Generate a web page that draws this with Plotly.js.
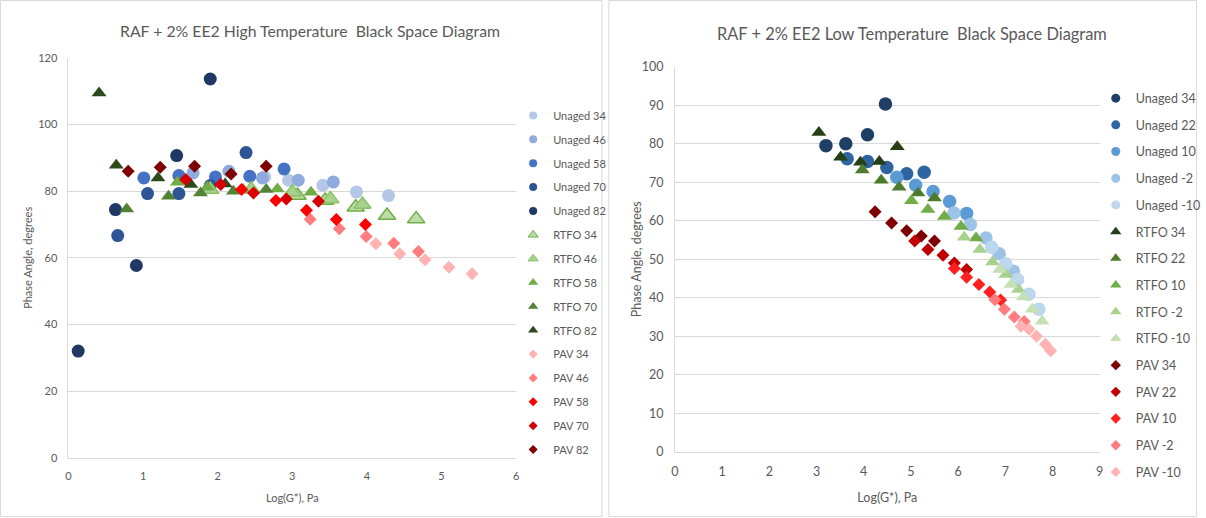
<!DOCTYPE html>
<html>
<head>
<meta charset="utf-8">
<script src="https://cdn.plot.ly/plotly-3.0.1.min.js"></script>
<style>
  html, body { margin: 0; padding: 0; background: #fff; }
  #chart { width: 1206px; height: 518px; }
</style>
</head>
<body>
<div id="chart"></div>
<script>
// ---- High temperature black space data (Log G*, phase angle) ----
const hiLabels = ['Unaged 34', 'Unaged 46', 'Unaged 58', 'Unaged 70', 'Unaged 82',
                  'RTFO 34', 'RTFO 46', 'RTFO 58', 'RTFO 70', 'RTFO 82',
                  'PAV 34', 'PAV 46', 'PAV 58', 'PAV 70', 'PAV 82'];
const hiX = [
  [2.63, 2.95, 3.41, 3.86, 4.29],
  [1.67, 2.15, 2.60, 3.08, 3.55],
  [1.01, 1.48, 1.97, 2.43, 2.89],
  [0.66, 1.06, 1.48, 1.90, 2.38],
  [0.13, 0.63, 0.91, 1.45, 1.90],
  [3.07, 3.44, 3.85, 4.27, 4.66],
  [1.90, 2.45, 3.00, 3.51, 3.94],
  [1.46, 1.86, 2.34, 2.80, 3.25],
  [0.78, 1.34, 1.77, 2.21, 2.65],
  [0.41, 0.64, 1.20, 1.64, 2.10],
  [4.12, 4.44, 4.78, 5.10, 5.41],
  [3.24, 3.63, 3.99, 4.36, 4.69],
  [2.32, 2.78, 3.19, 3.59, 3.98],
  [1.57, 2.04, 2.48, 2.92, 3.35],
  [0.80, 1.23, 1.69, 2.18, 2.65]
];
const hiY = [
  [84.3, 83.3, 81.8, 79.8, 78.7],
  [85.5, 86.0, 84.0, 83.3, 82.8],
  [84.0, 84.7, 84.3, 84.5, 86.7],
  [66.7, 79.3, 79.3, 81.7, 91.6],
  [32.0, 74.5, 57.7, 90.7, 113.7],
  [78.7, 77.2, 75.2, 72.7, 71.7],
  [80.5, 80.6, 79.7, 77.7, 76.0],
  [82.7, 81.2, 80.5, 80.7, 79.7],
  [74.7, 78.5, 79.5, 80.0, 80.5],
  [109.5, 87.8, 84.0, 82.0, 82.2],
  [64.2, 61.2, 59.4, 57.2, 55.2],
  [71.6, 68.7, 66.4, 64.4, 61.9],
  [80.5, 77.2, 74.3, 71.5, 70.0],
  [83.5, 82.0, 79.5, 77.7, 77.0],
  [86.0, 87.2, 87.5, 85.2, 87.5]
];

// ---- Low temperature black space data ----
const loLabels = ['Unaged 34', 'Unaged 22', 'Unaged 10', 'Unaged -2', 'Unaged -10',
                  'RTFO 34', 'RTFO 22', 'RTFO 10', 'RTFO -2', 'RTFO -10',
                  'PAV 34', 'PAV 22', 'PAV 10', 'PAV -2', 'PAV -10'];
const loX = [
  [3.20, 3.62, 4.08, 4.46],
  [3.65, 4.08, 4.49, 4.91, 5.28],
  [4.70, 5.10, 5.47, 5.82, 6.18],
  [5.91, 6.26, 6.59, 6.87, 7.17],
  [6.71, 7.01, 7.26, 7.50, 7.71],
  [3.05, 3.51, 3.93, 4.33, 4.71],
  [3.97, 4.37, 4.75, 5.15, 5.50],
  [5.01, 5.36, 5.71, 6.06, 6.38],
  [6.13, 6.46, 6.73, 7.01, 7.28],
  [6.88, 7.12, 7.38, 7.57, 7.78],
  [4.24, 4.59, 4.91, 5.22, 5.50],
  [5.08, 5.36, 5.68, 5.92, 6.18],
  [5.92, 6.18, 6.44, 6.67, 6.90],
  [6.78, 6.98, 7.19, 7.40],
  [7.33, 7.50, 7.66, 7.85, 7.96]
];
const loY = [
  [79.5, 80.0, 82.3, 90.3],
  [76.1, 75.4, 73.8, 72.2, 72.6],
  [71.3, 69.2, 67.6, 65.0, 61.9],
  [62.0, 59.0, 55.5, 51.4, 46.9],
  [53.1, 48.8, 44.7, 40.9, 37.0],
  [82.9, 76.5, 75.2, 75.4, 79.2],
  [73.2, 70.5, 68.7, 67.2, 65.9],
  [65.2, 62.9, 61.1, 58.5, 55.5],
  [55.7, 52.5, 49.3, 46.0, 42.1],
  [47.3, 43.4, 40.2, 37.0, 33.9],
  [62.3, 59.4, 57.4, 56.0, 54.7],
  [54.7, 52.5, 51.0, 49.0, 47.3],
  [47.6, 45.3, 43.4, 41.5, 39.4],
  [39.5, 37.0, 35.0, 33.8],
  [32.6, 31.8, 30.0, 27.9, 26.2]
];

// ---- Series styling ----
const hiColors = ['#B4C7E7', '#8FAADC', '#4472C4', '#2F5597', '#1F3864',
                  '#BCDCA6', '#A9D18E', '#70AD47', '#548235', '#2C4A1C',
                  '#FFB3B3', '#FF7C80', '#FF0000', '#D60000', '#7F0000'];
const hiLines  = ['#B4C7E7', '#8FAADC', '#4472C4', '#2F5597', '#1F3864',
                  '#70AD47', '#8CC168', '#70AD47', '#548235', '#2C4A1C',
                  '#FFB3B3', '#FF7C80', '#FF0000', '#D60000', '#7F0000'];
const loColors = ['#1F3F66', '#2E64A0', '#5B9BD5', '#9DC3E6', '#BDD7EE',
                  '#263F17', '#4E7A2E', '#70AD47', '#A9D18E', '#C5E0B4',
                  '#7F0000', '#C00000', '#FF2020', '#FF7C80', '#FFB3B3'];

const W = 1206, H = 518;
const px = v => v / W;
const py = v => 1 - v / H;

function symbolFor(label) {
  if (label.startsWith('Unaged')) return 'circle';
  if (label.startsWith('RTFO')) return 'triangle-up';
  return 'diamond';
}

const traces = [];

function addChart(labels, xs, ys, fills, lines, axX, axY, legendId, sizes, legSizes, outlineIdx) {
  // data series
  labels.forEach((name, i) => {
    const sym = symbolFor(name);
    const outlined = outlineIdx.includes(i);
    traces.push({
      type: 'scatter', mode: 'markers', name: name,
      x: xs[i], y: ys[i], xaxis: axX, yaxis: axY,
      showlegend: false, cliponaxis: false, hoverinfo: 'x+y+name',
      marker: {
        symbol: sym,
        size: sizes[sym] + (outlined ? 2 : 0),
        color: fills[i],
        line: { width: outlined ? 1.5 : 0, color: lines[i] }
      }
    });
  });
  // legend keys
  labels.forEach((name, i) => {
    const sym = symbolFor(name);
    const outlined = outlineIdx.includes(i);
    traces.push({
      type: 'scatter', mode: 'markers', name: name,
      x: [null], y: [null], xaxis: axX, yaxis: axY,
      legend: legendId, legendgroup: legendId + '_' + i, showlegend: true,
      hoverinfo: 'skip',
      marker: {
        symbol: sym, size: legSizes[sym], color: fills[i],
        line: { width: outlined ? 1 : 0, color: lines[i] }
      }
    });
  });
}

addChart(hiLabels, hiX, hiY, hiColors, hiLines, 'x', 'y', 'legend',
         { 'circle': 13, 'triangle-up': 13, 'diamond': 10 },
         { 'circle': 8, 'triangle-up': 9, 'diamond': 7 }, [5, 6]);
addChart(loLabels, loX, loY, loColors, loColors, 'x2', 'y2', 'legend2',
         { 'circle': 13.5, 'triangle-up': 13, 'diamond': 10 },
         { 'circle': 9, 'triangle-up': 10, 'diamond': 8 }, []);

const grey = '#595959';
const gridGrey = '#D9D9D9';
const fontFam = 'Lato, "Noto Sans", sans-serif';

function xAxis(domain, range, anchor, fs, standoff) {
  return {
    domain: domain, range: range, dtick: 1, tick0: 0, anchor: anchor,
    showgrid: false, zeroline: false, showline: true, linecolor: gridGrey, linewidth: 1,
    ticks: '', ticklabelstandoff: 8, tickfont: { size: fs, color: grey, family: fontFam },
    title: { text: 'Log(G*), Pa', font: { size: fs, color: grey, family: fontFam }, standoff: standoff },
    automargin: false, fixedrange: true
  };
}
function yAxis(domain, range, dtick, anchor, fs, title, standoff) {
  return {
    domain: domain, range: range, dtick: dtick, tick0: 0, anchor: anchor,
    showgrid: true, gridcolor: gridGrey, gridwidth: 1, zeroline: false,
    showline: true, linecolor: gridGrey, linewidth: 1,
    ticks: '', ticklabelstandoff: 8, tickfont: { size: fs, color: grey, family: fontFam },
    title: { text: title, font: { size: fs, color: grey, family: fontFam }, standoff: standoff },
    automargin: false, fixedrange: true
  };
}

const layout = {
  width: W, height: H,
  margin: { l: 0, r: 0, t: 0, b: 0 },
  paper_bgcolor: '#ffffff', plot_bgcolor: 'rgba(0,0,0,0)',
  font: { family: fontFam, color: grey },
  xaxis: xAxis([px(69), px(520)], [0, 6], 'y', 11, 13),
  yaxis: yAxis([py(457.7), py(58)], [0, 120], 20, 'x', 11, 'Phase Angle, degrees', 3),
  xaxis2: xAxis([px(680), px(1108)], [0, 9], 'y2', 12.5, 15),
  yaxis2: yAxis([py(451.7), py(66.7)], [0, 100], 10, 'x2', 12.5, '', 0),
  legend: {
    x: px(517), y: py(101), xanchor: 'left', yanchor: 'top',
    font: { size: 11, color: grey, family: fontFam },
    bgcolor: 'rgba(0,0,0,0)', traceorder: 'grouped', tracegroupgap: 4.86,
    itemclick: false, itemdoubleclick: false
  },
  legend2: {
    x: px(1104), y: py(83.5), xanchor: 'left', yanchor: 'top',
    font: { size: 12.5, color: grey, family: fontFam },
    bgcolor: 'rgba(0,0,0,0)', traceorder: 'grouped', tracegroupgap: 7.45,
    itemclick: false, itemdoubleclick: false
  },
  annotations: [
    { text: 'RAF + 2% EE2 High Temperature  Black Space Diagram', xref: 'paper', yref: 'paper',
      x: px(312), y: py(31), xanchor: 'center', yanchor: 'middle', showarrow: false,
      font: { size: 15.8, color: grey, family: fontFam } },
    { text: 'RAF + 2% EE2 Low Temperature  Black Space Diagram', xref: 'paper', yref: 'paper',
      x: px(919), y: py(34), xanchor: 'center', yanchor: 'middle', showarrow: false,
      font: { size: 16.4, color: grey, family: fontFam } },
    { text: 'Phase Angle, degrees', xref: 'paper', yref: 'paper',
      x: px(641), y: py(259), xanchor: 'center', yanchor: 'middle', textangle: -90, showarrow: false,
      font: { size: 12.5, color: grey, family: fontFam } }
  ],
  shapes: [
    { type: 'rect', xref: 'paper', yref: 'paper', x0: px(0.5), x1: px(606.5), y0: py(516.5), y1: py(0.5),
      line: { color: gridGrey, width: 1 }, layer: 'below' },
    { type: 'rect', xref: 'paper', yref: 'paper', x0: px(613.5), x1: px(1205.5), y0: py(516.5), y1: py(0.5),
      line: { color: gridGrey, width: 1 }, layer: 'below' }
  ],
  hovermode: 'closest'
};

Plotly.newPlot('chart', traces, layout, { displayModeBar: false, staticPlot: false });
</script>
</body>
</html>
